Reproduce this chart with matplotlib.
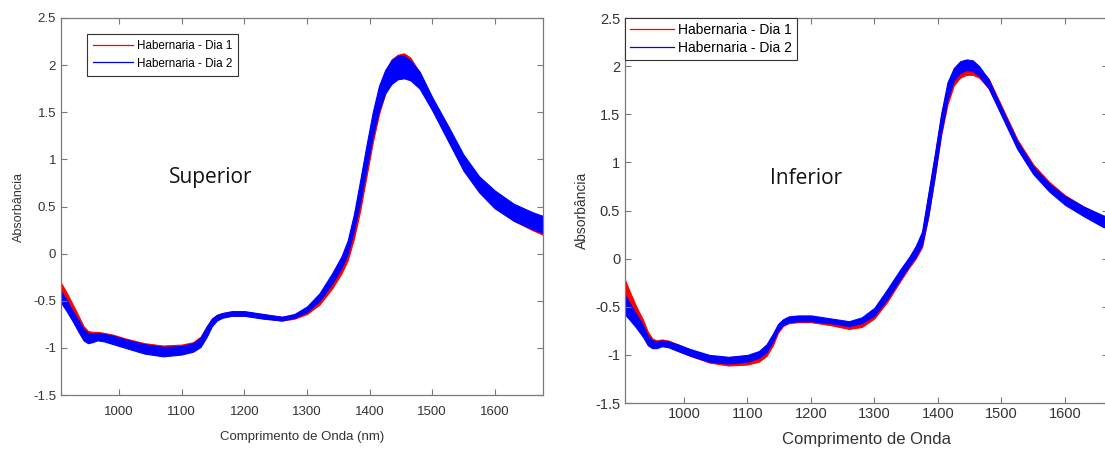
import matplotlib
matplotlib.use('Agg')
import matplotlib.pyplot as plt
from matplotlib.lines import Line2D

plt.rcParams['font.family'] = ['Liberation Sans', 'DejaVu Sans']

wl = [907, 915, 925, 935, 943, 950, 957, 965, 975, 990, 1010, 1040, 1070, 1100,
      1118, 1130, 1140, 1148, 1156, 1165, 1180, 1200, 1230, 1260, 1280, 1300,
      1320, 1340, 1355, 1365, 1375, 1385, 1395, 1405, 1415, 1425, 1435, 1445,
      1455, 1465, 1480, 1500, 1525, 1550, 1575, 1600, 1630, 1660, 1677]

# Superior - Dia 1 (red) lower / upper envelope of the bundle
sup_d1_lo = [-0.48, -0.56, -0.67, -0.79, -0.88, -0.91, -0.91, -0.90, -0.91, -0.94,
             -0.98, -1.03, -1.05, -1.03, -1.00, -0.95, -0.85, -0.75, -0.70, -0.67,
             -0.655, -0.655, -0.685, -0.71, -0.69, -0.64, -0.54, -0.37, -0.21, -0.07,
             0.16, 0.46, 0.82, 1.18, 1.48, 1.70, 1.85, 1.92, 1.93, 1.90, 1.78,
             1.54, 1.22, 0.90, 0.66, 0.49, 0.35, 0.25, 0.20]
sup_d1_hi = [-0.31, -0.40, -0.53, -0.66, -0.77, -0.82, -0.83, -0.83, -0.84, -0.86,
             -0.90, -0.95, -0.975, -0.965, -0.94, -0.88, -0.77, -0.69, -0.65, -0.63,
             -0.615, -0.615, -0.645, -0.67, -0.65, -0.58, -0.46, -0.28, -0.10, 0.06,
             0.33, 0.68, 1.05, 1.42, 1.72, 1.93, 2.06, 2.11, 2.125, 2.08, 1.92,
             1.64, 1.34, 1.02, 0.80, 0.64, 0.50, 0.41, 0.37]
# Superior - Dia 2 (blue)
sup_d2_lo = [-0.52, -0.60, -0.71, -0.83, -0.92, -0.95, -0.94, -0.92, -0.93, -0.96,
             -1.00, -1.06, -1.09, -1.07, -1.04, -0.99, -0.88, -0.77, -0.71, -0.68,
             -0.66, -0.66, -0.69, -0.71, -0.68, -0.62, -0.50, -0.32, -0.15, 0.00,
             0.25, 0.55, 0.90, 1.25, 1.52, 1.70, 1.80, 1.85, 1.86, 1.84, 1.75,
             1.52, 1.20, 0.88, 0.65, 0.48, 0.35, 0.26, 0.22]
sup_d2_hi = [-0.40, -0.48, -0.60, -0.71, -0.80, -0.84, -0.85, -0.84, -0.85, -0.87,
             -0.91, -0.96, -0.99, -0.98, -0.95, -0.89, -0.77, -0.69, -0.65, -0.63,
             -0.61, -0.61, -0.64, -0.67, -0.64, -0.56, -0.42, -0.21, -0.03, 0.14,
             0.42, 0.78, 1.15, 1.50, 1.78, 1.95, 2.05, 2.10, 2.10, 2.05, 1.93,
             1.66, 1.36, 1.05, 0.82, 0.67, 0.53, 0.44, 0.40]

# Inferior - Dia 1 (red)
inf_d1_lo = [-0.50, -0.56, -0.65, -0.76, -0.86, -0.89, -0.90, -0.89, -0.91, -0.95,
             -1.01, -1.08, -1.11, -1.10, -1.07, -1.01, -0.90, -0.77, -0.70, -0.67,
             -0.66, -0.66, -0.69, -0.73, -0.71, -0.62, -0.45, -0.24, -0.09, 0.00,
             0.12, 0.44, 0.85, 1.28, 1.60, 1.80, 1.88, 1.91, 1.91, 1.88, 1.77,
             1.50, 1.16, 0.90, 0.72, 0.58, 0.45, 0.34, 0.31]
inf_d1_hi = [-0.22, -0.35, -0.50, -0.63, -0.76, -0.83, -0.85, -0.84, -0.85, -0.89,
             -0.95, -1.01, -1.04, -1.02, -0.99, -0.93, -0.81, -0.70, -0.64, -0.61,
             -0.61, -0.61, -0.64, -0.67, -0.64, -0.54, -0.35, -0.14, 0.00, 0.11,
             0.26, 0.66, 1.06, 1.48, 1.78, 1.93, 2.00, 2.03, 2.03, 1.98, 1.87,
             1.59, 1.24, 0.98, 0.80, 0.66, 0.54, 0.44, 0.41]
# Inferior - Dia 2 (blue)
inf_d2_lo = [-0.58, -0.64, -0.72, -0.81, -0.90, -0.93, -0.93, -0.91, -0.92, -0.96,
             -1.01, -1.07, -1.09, -1.07, -1.03, -0.97, -0.86, -0.75, -0.69, -0.66,
             -0.65, -0.65, -0.67, -0.70, -0.67, -0.59, -0.42, -0.22, -0.07, 0.02,
             0.14, 0.45, 0.85, 1.30, 1.65, 1.85, 1.93, 1.96, 1.95, 1.90, 1.77,
             1.49, 1.14, 0.88, 0.70, 0.56, 0.44, 0.33, 0.30]
inf_d2_hi = [-0.38, -0.47, -0.58, -0.69, -0.80, -0.85, -0.86, -0.85, -0.86, -0.89,
             -0.94, -1.00, -1.02, -1.00, -0.96, -0.89, -0.78, -0.68, -0.63, -0.60,
             -0.59, -0.59, -0.62, -0.65, -0.61, -0.51, -0.32, -0.12, 0.02, 0.13,
             0.28, 0.68, 1.08, 1.50, 1.83, 1.98, 2.05, 2.07, 2.06, 2.00, 1.86,
             1.57, 1.22, 0.96, 0.78, 0.65, 0.54, 0.45, 0.42]

legend_labels = ['Habernaria - Dia 1', 'Habernaria - Dia 2']
x_ticks = [1000, 1100, 1200, 1300, 1400, 1500, 1600]
y_ticks = [-1.5, -1, -0.5, 0, 0.5, 1, 1.5, 2, 2.5]
y_ticklabels = ['-1.5', '-1', '-0.5', '0', '0.5', '1', '1.5', '2', '2.5']

RED = '#ff0000'
BLUE = '#0000ff'
AXCOL = '#7a7a7a'
TXTCOL = '#333333'


def draw_panel(ax, d1_lo, d1_hi, d2_lo, d2_hi, xmax, tick_size, xpad):
    # red bundle first, blue bundle drawn over it
    ax.fill_between(wl, d1_lo, d1_hi, color=RED, lw=0.8)
    ax.fill_between(wl, d2_lo, d2_hi, color=BLUE, lw=0.8)
    ax.set_xlim(907, xmax)
    ax.set_ylim(-1.5, 2.5)
    ax.set_xticks(x_ticks)
    ax.set_yticks(y_ticks)
    ax.set_yticklabels(y_ticklabels)
    ax.tick_params(direction='in', top=True, right=True, length=4, width=0.8,
                   color=AXCOL, labelcolor=TXTCOL, labelsize=tick_size)
    ax.tick_params(axis='x', pad=xpad)
    for s in ax.spines.values():
        s.set_color(AXCOL)
        s.set_linewidth(0.9)


def add_legend(ax, anchor, size, hlen, bpad, lspace):
    handles = [Line2D([], [], color=RED, lw=0.9), Line2D([], [], color=BLUE, lw=0.9)]
    leg = ax.legend(handles, legend_labels, loc='upper left', bbox_to_anchor=anchor,
                    fontsize=size, handlelength=hlen, handletextpad=0.3, borderpad=bpad,
                    labelspacing=lspace, fancybox=False, framealpha=1, borderaxespad=0)
    leg.get_frame().set_edgecolor('#333333')
    leg.get_frame().set_linewidth(0.8)


fig = plt.figure(figsize=(11.05, 4.5), dpi=100)

# left panel - Superior
ax1 = fig.add_axes([0.0552, 0.1222, 0.4362, 0.8378])
draw_panel(ax1, sup_d1_lo, sup_d1_hi, sup_d2_lo, sup_d2_hi, 1677, 9.5, 8)
ax1.set_xlabel('Comprimento de Onda (nm)', fontsize=9.5, color=TXTCOL, labelpad=9)
ax1.set_ylabel('Absorbância', fontsize=9, color=TXTCOL, labelpad=6)
ax1.text(0.311, 0.576, 'Superior', transform=ax1.transAxes, fontsize=15,
         family=['Open Sans', 'DejaVu Sans'], ha='center', va='center', color='#111111')
add_legend(ax1, (0.054, 0.958), 8.4, 3.4, 0.55, 0.45)

# right panel - Inferior (cut at the figure's right edge)
ax2 = fig.add_axes([0.5656, 0.1044, 0.4371, 0.8556])
draw_panel(ax2, inf_d1_lo, inf_d1_hi, inf_d2_lo, inf_d2_hi, 1668, 10.5, 3)
ax2.set_xlabel('Comprimento de Onda', fontsize=12, color=TXTCOL, labelpad=8)
ax2.set_ylabel('Absorbância', fontsize=10, color=TXTCOL, labelpad=4)
ax2.text(0.375, 0.584, 'Inferior', transform=ax2.transAxes, fontsize=15,
         family=['Open Sans', 'DejaVu Sans'], ha='center', va='center', color='#111111')
add_legend(ax2, (0.0, 1.0), 10, 3.2, 0.35, 0.3)

fig.savefig('out.png', dpi=100)
